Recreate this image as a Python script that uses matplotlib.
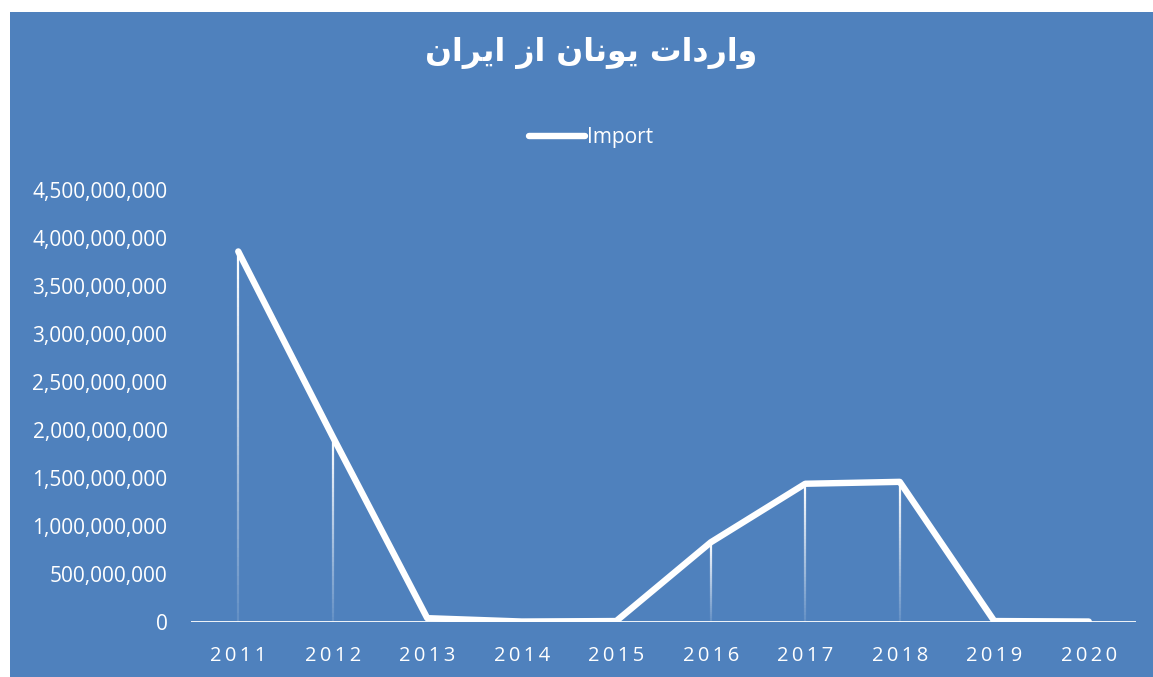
import matplotlib.pyplot as plt
import numpy as np
from matplotlib.collections import LineCollection
from matplotlib.patches import Rectangle

# Data
years = ['2011', '2012', '2013', '2014', '2015', '2016', '2017', '2018', '2019', '2020']
imports = [3.86e9, 1.93e9, 0.04e9, 0.005e9, 0.01e9, 0.83e9, 1.44e9, 1.46e9, 0.01e9, 0.005e9]
y_ticks = [0, 5e8, 1e9, 1.5e9, 2e9, 2.5e9, 3e9, 3.5e9, 4e9, 4.5e9]
title_text = 'واردات یونان از ایران'
series_name = 'Import'

BLUE = '#4F81BD'

# matplotlib has no Arabic shaping, so turn the letters into presentation forms
# (isolated, final, initial, medial) and reverse for display
forms = {
    'ا': ('\uFE8D', '\uFE8E', None, None),
    'ر': ('\uFEAD', '\uFEAE', None, None),
    'د': ('\uFEA9', '\uFEAA', None, None),
    'ز': ('\uFEAF', '\uFEB0', None, None),
    'و': ('\uFEED', '\uFEEE', None, None),
    'ت': ('\uFE95', '\uFE96', '\uFE97', '\uFE98'),
    'ن': ('\uFEE5', '\uFEE6', '\uFEE7', '\uFEE8'),
    'ی': ('\uFEEF', '\uFEF0', '\uFEF3', '\uFEF4'),
}


def shape(text):
    words = []
    for w in text.split(' '):
        out = []
        for i, ch in enumerate(w):
            prev_joins = i > 0 and forms[w[i - 1]][2] is not None
            next_exists = i < len(w) - 1
            iso, fin, ini, med = forms[ch]
            if prev_joins and next_exists and med:
                out.append(med)
            elif prev_joins:
                out.append(fin)
            elif next_exists and ini:
                out.append(ini)
            else:
                out.append(iso)
        words.append(''.join(out[::-1]))
    return ' '.join(words[::-1])


plt.rcParams['font.family'] = ['Open Sans', 'DejaVu Sans']

fig = plt.figure(figsize=(11.53, 6.77), dpi=100)
fig.patch.set_facecolor('white')
bg = Rectangle((10 / 1153, 0), 1, 1 - 12 / 677, transform=fig.transFigure,
               facecolor=BLUE, edgecolor='none', zorder=-10)
fig.add_artist(bg)

ax = fig.add_axes([191 / 1153, 1 - 622 / 677, (1136 - 191) / 1153, (622 - 190) / 677])
ax.set_facecolor('none')
ax.set_zorder(1)
x = np.arange(len(years))

# gradient drop lines
segs, cols = [], []
n = 40
for xi, v in zip(x, imports):
    ys = np.linspace(v, 0, n + 1)
    for k in range(n):
        segs.append([(xi, ys[k]), (xi, ys[k + 1])])
        cols.append((1, 1, 1, 1 - 0.9 * k / n))
ax.add_collection(LineCollection(segs, colors=cols, linewidths=1.6, zorder=2))

ax.axhline(0, color='white', lw=2, zorder=2)
ax.plot(x, imports, color='white', lw=4.6, solid_capstyle='round', solid_joinstyle='round',
        label=series_name, zorder=3)

ax.set_xlim(-0.5, len(years) - 0.5)
ax.set_ylim(0, 4.5e9)
ax.set_yticks(y_ticks)
ax.set_yticklabels([f'{int(v):,}' for v in y_ticks])
ax.set_xticks(x)
ax.set_xticklabels(['\u2009'.join(y) for y in years])
ax.tick_params(axis='y', length=0, pad=17, labelsize=15, labelcolor='white')
ax.tick_params(axis='x', length=0, pad=17, labelsize=14.5, labelcolor='white')
for s in ax.spines.values():
    s.set_visible(False)

fig.text(591 / 1153, 1 - 53 / 677, shape(title_text), ha='center', va='center',
         color='white', fontsize=22.8, fontweight='bold', family=['DejaVu Sans'], zorder=2)

leg = fig.legend(loc='center', bbox_to_anchor=(591 / 1153, 1 - 138 / 677), frameon=False,
                 handlelength=2.7, handletextpad=0.1, fontsize=15)
leg.set_zorder(2)
for t in leg.get_texts():
    t.set_color('white')

plt.savefig('out.png', dpi=100)
